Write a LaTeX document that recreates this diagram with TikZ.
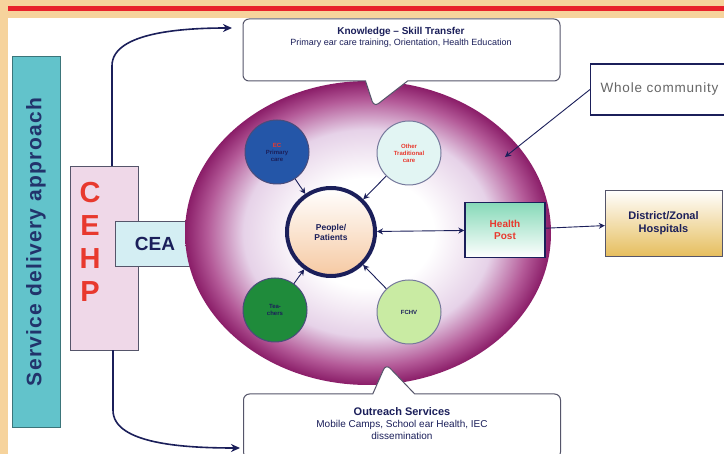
\documentclass[tikz,border=0pt]{standalone}
\usepackage{fontspec}
\setmainfont{Liberation Sans}
\newfontfamily\widefont[LetterSpace=6]{Liberation Sans}
\usetikzlibrary{arrows.meta, shapes.geometric, shapes.callouts, shadings}
\definecolor{beige}{HTML}{F6D39C}
\definecolor{redline}{HTML}{E8212B}
\definecolor{sdteal}{HTML}{62C3CB}
\definecolor{sdtext}{HTML}{22336B}
\definecolor{cehpfill}{HTML}{EFD8E8}
\definecolor{cehpred}{HTML}{E8392E}
\definecolor{ceafill}{HTML}{D4EEF3}
\definecolor{navy}{HTML}{1B1F5A}
\definecolor{plumdark}{HTML}{8A1D68}
\definecolor{plummid}{HTML}{B45A98}
\definecolor{plumlight}{HTML}{E6D2E8}
\definecolor{bluec}{HTML}{2456A8}
\definecolor{cyanc}{HTML}{E2F5F3}
\definecolor{greenc}{HTML}{1F8B3B}
\definecolor{lgreenc}{HTML}{C9EBA3}
\definecolor{hpgreen}{HTML}{86D9B8}
\definecolor{gold}{HTML}{E6BE5E}
\definecolor{peach}{HTML}{F6C9A2}
\definecolor{bubbleline}{HTML}{55556A}
\pgfdeclareradialshading{ringshade}{\pgfpoint{0bp}{0bp}}{color(0bp)=(white); color(9bp)=(white); color(17bp)=(plumlight); color(22bp)=(plummid); color(25bp)=(plumdark); color(50bp)=(plumdark)}
\tikzset{
  sidebar/.style={rectangle, draw=sdteal!60!black, fill=sdteal, minimum width=371, minimum height=48,
    font=\widefont\fontsize{21}{23}\selectfont\bfseries, text=sdtext},
  cehpbox/.style={rectangle, draw=bubbleline, fill=cehpfill, minimum width=68, minimum height=184},
  cehpletters/.style={align=center, font=\fontsize{29}{33}\selectfont\bfseries, text=cehpred},
  ceabox/.style={rectangle, draw=bubbleline, fill=ceafill, minimum width=80, minimum height=45,
    font=\fontsize{19}{21}\selectfont\bfseries, text=navy},
  bubble/.style={rectangle callout, rounded corners=6pt, draw=bubbleline, line width=1pt, fill=white,
    minimum width=317, minimum height=62, callout pointer width=42},
  bubbletext/.style={align=center, text=navy, font=\fontsize{9}{11}\selectfont},
  disc/.style={circle, draw=navy!80, line width=1pt, minimum size=64, align=center,
    font=\fontsize{6}{7}\selectfont\bfseries},
  flow/.style={-{Stealth[length=9pt, width=8pt]}, line width=1.6pt, navy},
  spoke/.style={-{Stealth[length=6pt, width=6pt]}, line width=0.9pt, navy},
}
\begin{document}
\begin{tikzpicture}[x=1pt, y=-1pt]
\useasboundingbox (0,0) rectangle (724,454);
\clip (0,0) rectangle (724,454);
% frame
\fill[beige] (0,0) rectangle (724,454);
\fill[white] (8,18) rectangle (724,454);
\fill[redline] (8,6) rectangle (724,11);

% left column
\node[sidebar, rotate=90] (sda) at (36,242) {Service delivery approach};
\node[cehpbox] (cehp) at (104,258) {};
\node[cehpletters] (cehpl) at (90,242) {C\\E\\H\\P};
\node[ceabox] (cea) at (155,244) {CEA};

\coordinate (ktip) at (232,28);
\coordinate (otip) at (240,448);
\draw[flow] ([xshift=8pt]cehp.north) -- ++(0,-100) .. controls +(0,-34) and (185,28) .. (ktip);
\draw[flow] ([xshift=9pt]cehp.south) -- ++(0,60) .. controls +(0,34) and (185,448) .. (otip);

% field
\node[ellipse, minimum width=366, minimum height=304, shading=ringshade] (field) at (368,233) {};

% callouts
\node[bubble, callout absolute pointer={(374,107)}] (kbox) at (401.5,50) {};
\node[bubbletext] (ktext) at (401,37) {{\fontsize{10}{12}\selectfont\bfseries Knowledge -- Skill Transfer}\\Primary ear care training, Orientation, Health Education};
\node[bubble, minimum height=64, callout absolute pointer={(386,364)}] (obox) at (402,426) {};
\node[bubbletext, font=\fontsize{10}{12}\selectfont] (otext) at (402,424) {{\fontsize{11}{13}\selectfont\bfseries Outreach Services}\\Mobile Camps, School ear Health, IEC\\dissemination};

% people
\node[circle, draw=navy, line width=4pt, top color=white, bottom color=peach, minimum size=88,
  align=center, font=\fontsize{8.5}{10}\selectfont\bfseries, text=navy] (pp) at (331,232) {People/\\Patients};
\node[disc, fill=bluec] (ec) at (277,152) {\textcolor{cehpred}{EC}\\\textcolor{navy}{Primary}\\\textcolor{navy}{care}};
\node[disc, fill=cyanc, draw=navy!60, text=cehpred] (oth) at (409,153) {Other\\Traditional\\care};
\node[disc, fill=greenc, text=navy] (tea) at (275,310) {Tea-\\chers};
\node[disc, fill=lgreenc, draw=navy!60, text=navy] (fchv) at (409,312) {FCHV};
\draw[spoke] (ec) -- (pp);
\draw[spoke] (oth) -- (pp);
\draw[spoke] (tea) -- (pp);
\draw[spoke] (fchv) -- (pp);

% right side
\node[rectangle, draw=navy, line width=1.5pt, top color=hpgreen, bottom color=white, minimum width=80, minimum height=55,
  align=center, font=\fontsize{10}{12}\selectfont\bfseries, text=cehpred] (hp) at (505,230) {Health\\Post};
\node[rectangle, draw=bubbleline, top color=white, bottom color=gold, minimum width=117, minimum height=66,
  align=center, font=\fontsize{11}{13}\selectfont\bfseries, text=navy] (hosp) at (663.5,223) {District/Zonal\\Hospitals};
\node[rectangle, draw=navy, line width=1.2pt, fill=white, anchor=west, minimum height=51, inner xsep=10pt,
  font=\widefont\fontsize{13.5}{15}\selectfont, text=black!60] (wc) at (590,89.5) {Whole community};
\coordinate (wctip) at (505,157);
\draw[spoke, {Stealth[length=6pt, width=6pt]}-{Stealth[length=6pt, width=6pt]}] (pp) -- (hp);
\draw[spoke] (hp) -- (hosp);
\draw[spoke] (wc.west) -- (wctip);
\end{tikzpicture}
\end{document}
